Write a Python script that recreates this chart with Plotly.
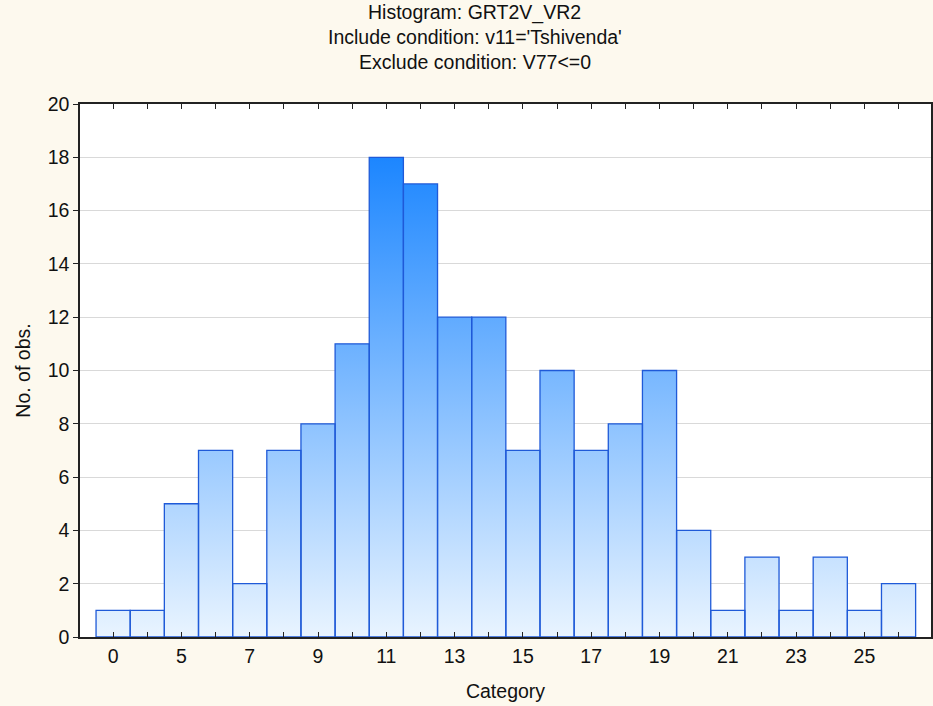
import plotly.graph_objects as go

# Data
tick_labels = ["0", "", "5", "", "7", "", "9", "", "11", "", "13", "", "15", "",
               "17", "", "19", "", "21", "", "23", "", "25", ""]
counts = [1, 1, 5, 7, 2, 7, 8, 11, 18, 17, 12, 12, 7, 10, 7, 8, 10, 4, 1, 3, 1, 3, 1, 2]

positions = list(range(len(counts)))

# Build bar outlines (one polygon per bar) from the data
xs, ys = [], []
for p, v in zip(positions, counts):
    xs += [p - 0.5, p - 0.5, p + 0.5, p + 0.5, p - 0.5, None]
    ys += [0, v, v, 0, 0, None]

fig = go.Figure()
fig.add_trace(go.Scatter(
    x=xs, y=ys, mode="lines", fill="toself",
    line=dict(color="#1f5ad8", width=1.3),
    fillgradient=dict(type="vertical",
                      colorscale=[[0, "#e9f4ff"], [1, "#1c86ff"]],
                      start=0, stop=max(counts)),
    hoverinfo="skip", showlegend=False,
))

font_family = "Liberation Sans, Arial, sans-serif"
FS = 19.5
title_lines = ["Histogram: GRT2V_VR2",
               "Include condition: v11='Tshivenda'",
               "Exclude condition: V77<=0"]

annotations = []
for k, t in enumerate(title_lines):
    annotations.append(dict(text=t, xref="paper", yref="paper",
                            x=0.464, y=1 + (92 - 25 * k) / 533,
                            xanchor="center", yanchor="middle",
                            showarrow=False,
                            font=dict(size=FS, color="#111111", family=font_family)))

fig.update_layout(
    width=933, height=706,
    margin=dict(l=80, r=2, t=104, b=69),
    paper_bgcolor="#fdf9ee",
    plot_bgcolor="#ffffff",
    font=dict(family=font_family, size=FS, color="#111111"),
    annotations=annotations,
    showlegend=False,
    hovermode=False,
    xaxis=dict(
        range=[-0.97, 23.95],
        tickvals=positions, ticktext=tick_labels,
        ticks="inside", ticklen=5, tickcolor="#222222",
        showline=True, linecolor="#222222", linewidth=1.5,
        mirror="ticks", showgrid=False, zeroline=False,
        ticklabelstandoff=1, automargin=False,
        title=dict(text="Category", standoff=18, font=dict(size=FS)),
    ),
    yaxis=dict(
        range=[0, 20], tickvals=list(range(0, 21, 2)),
        ticks="outside", ticklen=5, tickcolor="#222222",
        showline=True, linecolor="#222222", linewidth=1.5,
        mirror="ticks", showgrid=True, gridcolor="#d9d9d9", gridwidth=1,
        zeroline=False, automargin=False,
        title=dict(text="No. of obs.", standoff=12, font=dict(size=FS)),
    ),
)

fig.write_html("out.html",
               config={"displayModeBar": False},
               post_script="document.body.style.margin='0';document.body.style.padding='0';")
